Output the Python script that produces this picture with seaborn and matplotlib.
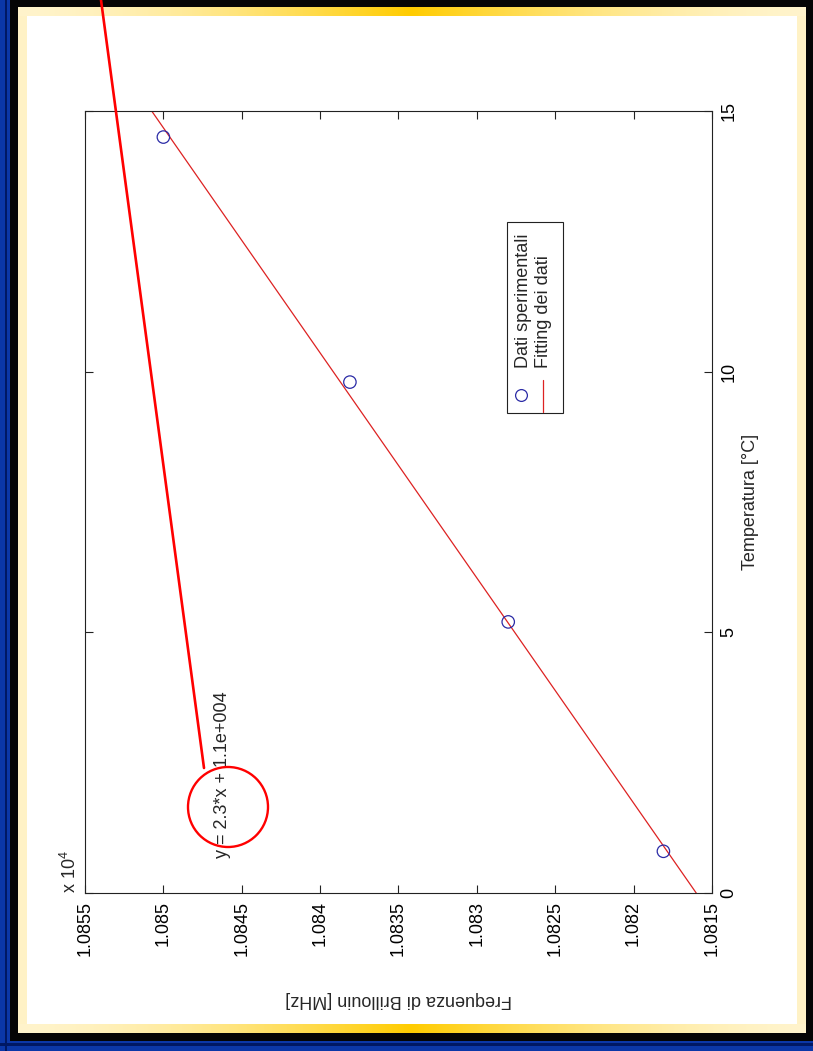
import numpy as np
import matplotlib
matplotlib.use("Agg")
import matplotlib.pyplot as plt
import seaborn as sns
from matplotlib.patches import Rectangle, Circle
from matplotlib.lines import Line2D

# ---------------- data ----------------
temperature = [0.8, 5.2, 9.8, 14.5]                 # °C
frequency = [10818.1, 10828.0, 10838.1, 10850.0]    # MHz
temp_limits = [0, 15]
temp_ticks = [0, 5, 10, 15]
freq_limits = [10855, 10815]
freq_ticks = [10815, 10820, 10825, 10830, 10835, 10840, 10845, 10850, 10855]
freq_tick_labels = ["1.0815", "1.082", "1.0825", "1.083", "1.0835",
                    "1.084", "1.0845", "1.085", "1.0855"]
legend_labels = ["Dati sperimentali", "Fitting dei dati"]
equation_text = "y = 2.3*x + 1.1e+004"
temp_label = "Temperatura [°C]"
freq_label = "Frequenza di Brillouin [MHz]"
exponent_text = r"x 10$^{4}$"

# linear fit of frequency vs temperature (as in the original figure)
slope, intercept = np.polyfit(temperature, frequency, 1)
fit_T = np.array(temp_limits, dtype=float)
fit_f = slope * fit_T + intercept

# ---------------- style ----------------
sns.set_theme(style="white")
plt.rcParams["font.family"] = ["Liberation Sans", "DejaVu Sans"]
plt.rcParams["mathtext.fontset"] = "custom"
plt.rcParams["mathtext.rm"] = "Liberation Sans"
FS = 13
RED = "#dd2222"
BLUE = "#2b2ba6"

W, H = 813, 1051
fig = plt.figure(figsize=(W / 100, H / 100), dpi=100)

# ---------------- slide frame (decoration) ----------------
img = np.zeros((H, W, 3), dtype=float)
navy = np.array([11, 55, 168]) / 255
dark = np.array([0, 24, 100]) / 255
img[:, :] = navy
img[:, 5:7] = dark
img[0:1041, 10:] = 0.02
img[1043:1046, :] = dark
cream = np.array([255, 244, 204]) / 255
gold = np.array([255, 204, 0]) / 255
xs = np.arange(W)
t = np.clip(1 - np.abs(xs - 410) / 395.0, 0, 1) ** 1.6
band = cream[None, :] * (1 - t[:, None]) + gold[None, :] * t[:, None]
img[7:1033, 18:805] = np.array([255, 242, 198]) / 255
img[7:16, 18:805] = band[18:805]
img[1024:1033, 18:805] = band[18:805]
img[16:1024, 27:796] = 1.0

bg = fig.add_axes([0, 0, 1, 1], zorder=0)
bg.imshow(img, extent=(0, W, H, 0), aspect="auto", interpolation="nearest")
bg.set_xlim(0, W)
bg.set_ylim(H, 0)
bg.axis("off")

# ---------------- main (rotated) chart ----------------
L, R, T, B = 85, 712, 111, 893
ax = fig.add_axes([L / W, 1 - B / H, (R - L) / W, (B - T) / H], zorder=2)
ax.set_facecolor("white")

sns.lineplot(x=fit_f, y=fit_T, ax=ax, color=RED, linewidth=0.9, sort=False)
sns.scatterplot(x=frequency, y=temperature, ax=ax, marker="o", s=80,
                facecolors="none", edgecolors=BLUE, linewidth=0.9, zorder=3)

ax.set_xlim(*freq_limits)
ax.set_ylim(*temp_limits)
ax.set_xticks(freq_ticks)
ax.set_xticklabels(freq_tick_labels, rotation=90, fontsize=FS)
ax.set_yticks(temp_ticks)
ax.set_yticklabels([str(v) for v in temp_ticks], rotation=90, fontsize=FS, va="center")
ax.tick_params(axis="both", direction="in", length=6, width=0.8, color="#222222",
               top=True, bottom=True, left=True, right=True,
               labelleft=False, labelright=True, pad=6, labelcolor="black")
for s in ax.spines.values():
    s.set_color("#222222")
    s.set_linewidth(0.8)

ax.yaxis.set_label_position("right")
ax.set_ylabel(temp_label, fontsize=FS, rotation=90)
ax.yaxis.set_label_coords((742 - L) / (R - L), 0.5)
ax.set_xlabel(freq_label, fontsize=FS, rotation=180)
ax.xaxis.set_label_coords(0.5, (B - 991) / (B - T))

# exponent label
fig.text(80 / W, 1 - B / H, exponent_text, rotation=90, fontsize=FS,
         ha="right", va="bottom")

# equation annotation
ax.text((222 - L) / (R - L), (B - 858) / (B - T), equation_text, transform=ax.transAxes,
        rotation=90, fontsize=FS, ha="center", va="bottom")

# manual rotated legend
def axf(px, py):
    return (px - L) / (R - L), (B - py) / (B - T)

bx0, by0 = axf(507, 413)
bx1, by1 = axf(563, 222)
ax.add_patch(Rectangle((bx0, by0), bx1 - bx0, by1 - by0, transform=ax.transAxes,
                       facecolor="white", edgecolor="#222222", linewidth=0.8, zorder=4))
mx, my = axf(521, 395)
ax.plot([mx], [my], transform=ax.transAxes, marker="o", markersize=8.5,
        markerfacecolor="none", markeredgecolor=BLUE, markeredgewidth=0.9, zorder=5)
lx, ly0 = axf(543, 412)
_, ly1 = axf(543, 380)
ax.plot([lx, lx], [ly0, ly1], transform=ax.transAxes, color=RED, linewidth=0.9, zorder=5)
t1x, t1y = axf(523, 368)
t2x, _ = axf(543, 368)
ax.text(t1x, t1y, legend_labels[0], transform=ax.transAxes, rotation=90,
        fontsize=FS, ha="center", va="bottom", zorder=5)
ax.text(t2x, t1y, legend_labels[1], transform=ax.transAxes, rotation=90,
        fontsize=FS, ha="center", va="bottom", zorder=5)

# ---------------- red hand-drawn annotation ----------------
ov = fig.add_axes([0, 0, 1, 1], zorder=6)
ov.set_xlim(0, W)
ov.set_ylim(H, 0)
ov.axis("off")
ov.patch.set_alpha(0)
ov.add_patch(Circle((228, 807), 40, fill=False, edgecolor="#ff0000", linewidth=1.7))
ov.add_line(Line2D([204, 101], [768, 0], color="#ff0000", linewidth=1.9))

fig.savefig("out.png", dpi=100)
